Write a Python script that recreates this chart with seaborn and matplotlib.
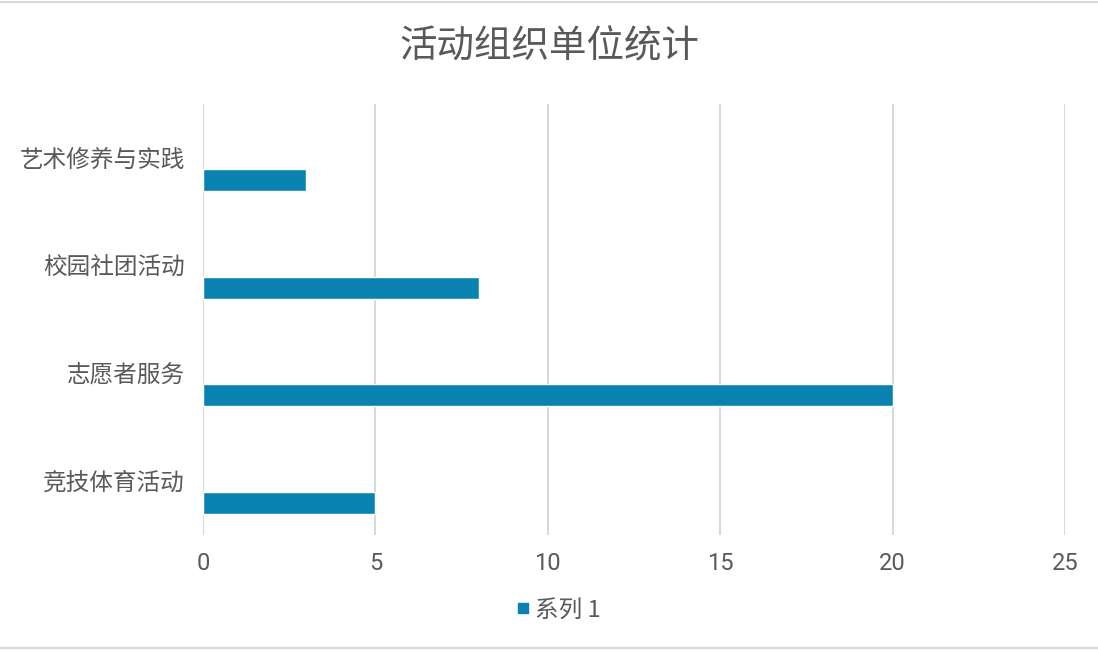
import matplotlib
matplotlib.use("Agg")
import matplotlib.pyplot as plt
from matplotlib.lines import Line2D
import seaborn as sns
import pandas as pd

categories = ["艺术修养与实践", "校园社团活动", "志愿者服务", "竞技体育活动"]
values = [3, 8, 20, 5]
series_name = "系列 1"
x_ticks = [0, 5, 10, 15, 20, 25]
title = "活动组织单位统计"

bar_color = "#0A82B0"
text_color = "#595959"
grid_color = "#D9D9D9"

sns.set_theme(style="white")
plt.rcParams["font.family"] = ["Noto Sans CJK SC", "DejaVu Sans"]

df = pd.DataFrame({"category": categories, "value": values, "series": series_name})

fig = plt.figure(figsize=(10.98, 6.52), dpi=100)
ax = fig.add_axes([203 / 1098, 1 - 535 / 652, (1065 - 203) / 1098, (535 - 104) / 652])

# Two empty hue slots above series 1 mimic Excel's clustered-bar spacing
hue_order = ["_s3", "_s2", series_name]
sns.barplot(data=df, x="value", y="category", hue="series", hue_order=hue_order,
            order=categories, orient="h", width=0.613, dodge=True,
            palette={"_s3": bar_color, "_s2": bar_color, series_name: bar_color},
            saturation=1, legend=False, ax=ax)

ax.set_xlim(0, 25)
ax.set_ylim(3.5, -0.5)
ax.set_xticks(x_ticks)
ax.set_xticklabels([str(t) for t in x_ticks])
ax.set_xlabel("")
ax.set_ylabel("")
ax.grid(axis="x", color=grid_color, linewidth=1.5)
ax.grid(axis="y", visible=False)
ax.set_axisbelow(True)
for s in ax.spines.values():
    s.set_visible(False)
ax.tick_params(axis="both", length=0, colors=text_color, labelsize=17)
ax.tick_params(axis="y", pad=13)
ax.tick_params(axis="x", pad=12)
for lbl in ax.get_xticklabels():
    lbl.set_fontfamily(["Roboto", "DejaVu Sans"])
    lbl.set_fontweight("normal")

fig.text(0.5, 1 - 47 / 652, title, ha="center", va="center",
         fontsize=27, color=text_color)

handle = Line2D([], [], marker="s", linestyle="none", markersize=7.5,
                markerfacecolor=bar_color, markeredgecolor=bar_color)
fig.legend([handle], [series_name], loc="center", bbox_to_anchor=(557 / 1098, 1 - 610 / 652),
           frameon=False, fontsize=17, labelcolor=text_color, handletextpad=0.1,
           handlelength=0.8)

fig.add_artist(Line2D([0, 1], [1 - 1.5 / 652, 1 - 1.5 / 652], color=grid_color, linewidth=1.5))
fig.add_artist(Line2D([0, 1], [1 - 647.5 / 652, 1 - 647.5 / 652], color=grid_color, linewidth=1.5))

fig.savefig("out.png", dpi=100, facecolor="white")
